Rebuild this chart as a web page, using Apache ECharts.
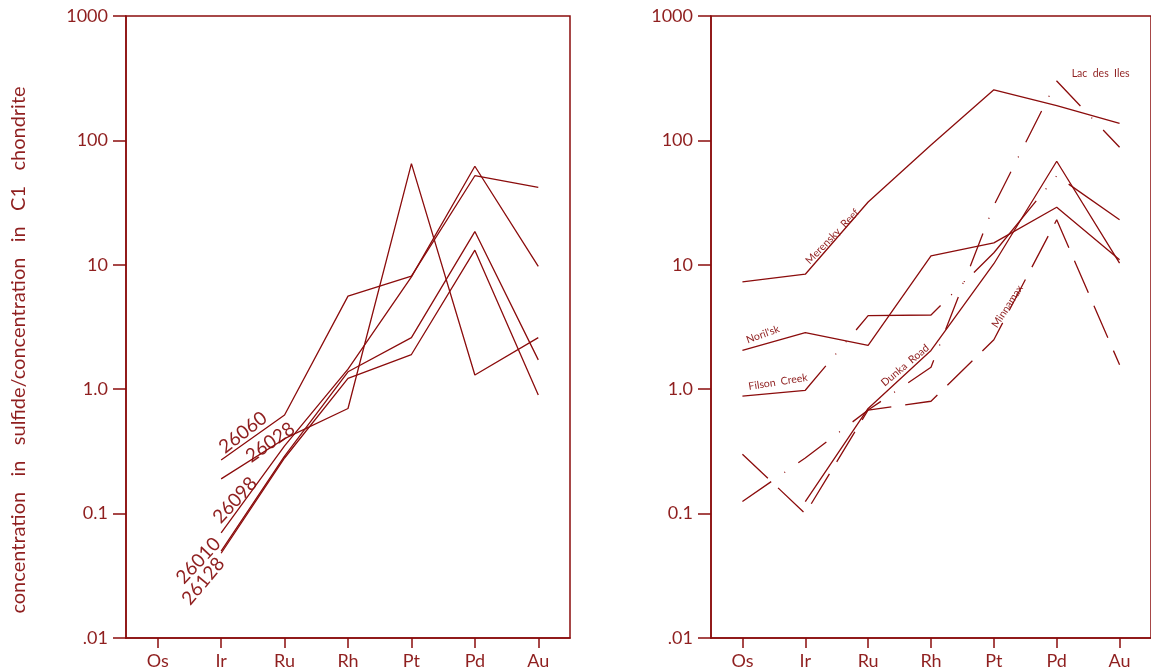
<!DOCTYPE html>
<html>
<head>
<meta charset="utf-8">
<script src="https://cdn.jsdelivr.net/npm/echarts@6/dist/echarts.min.js"></script>
<style>
  html, body { margin: 0; padding: 0; background: #ffffff; }
  #chart { width: 1151px; height: 671px; }
</style>
</head>
<body>
<div id="chart"></div>
<script>
// Platinum-group element order along the x axis
const elements = ['Os', 'Ir', 'Ru', 'Rh', 'Pt', 'Pd', 'Au'];
// Decade tick labels on the log axes (keyed by exponent)
const decadeLabels = { '-2': '.01', '-1': '0.1', '0': '1.0', '1': '10', '2': '100', '3': '1000' };

// Left panel: sulfide samples (chondrite-normalised)
const s26060 = [null, 0.27, 0.62, 5.6, 8.1, 52, 42];
const s26028 = [null, 0.19, 0.40, 0.70, 65, 1.3, 2.6];
const s26098 = [null, 0.070, 0.35, 1.45, 8.0, 62, 9.7];
const s26010 = [null, 0.050, 0.29, 1.38, 2.6, 18.5, 1.72];
const s26128 = [null, 0.048, 0.28, 1.22, 1.9, 13.1, 0.90];

// Right panel: reference deposits
const merensky = [7.3, 8.4, 32, 92, 255, 190, 137];
const norilsk = [2.05, 2.85, 2.25, 11.8, 15, 29, 11];
const filson = [0.88, 0.98, 3.9, 3.95, 12.5, 52, 23];
const dunka = [null, 0.125, 0.70, 2.05, 10.2, 68, 10.3];
const minnamax = [0.30, 0.10, 0.68, 0.80, 2.5, 23, 1.57];
const lacDesIles = [0.125, 0.28, 0.68, 1.5, 30, 300, 88];

const RED = '#8b0c0c';
const TXT = '#8f1f1f';
const FONT = 'Lato, "DejaVu Sans", sans-serif';

const chart = echarts.init(document.getElementById('chart'), null, { renderer: 'canvas' });

function yAxis(gridIndex) {
  return {
    type: 'log', logBase: 10, min: 0.01, max: 1000, splitNumber: 5, gridIndex,
    axisLine: { show: true, lineStyle: { color: RED, width: 1.5 } },
    axisTick: { show: true, inside: false, length: 13, lineStyle: { color: RED, width: 1.5 } },
    axisLabel: {
      margin: 18, fontSize: 18, color: TXT, fontFamily: FONT,
      formatter: v => decadeLabels[String(Math.round(Math.log10(v)))] || ''
    },
    splitLine: { show: false }, minorTick: { show: false }
  };
}
function xAxis(gridIndex) {
  return {
    type: 'category', data: elements, boundaryGap: true, gridIndex,
    axisLine: { show: true, lineStyle: { color: RED, width: 1.5 } },
    axisTick: { show: true, alignWithLabel: true, inside: false, length: 10, lineStyle: { color: RED, width: 1.5 } },
    axisLabel: { margin: 14, fontSize: 18, color: TXT, fontFamily: FONT },
    splitLine: { show: false }
  };
}
function line(name, data, gridIndex, type) {
  return {
    name, type: 'line', data, xAxisIndex: gridIndex, yAxisIndex: gridIndex,
    symbol: 'none', connectNulls: false, silent: true,
    lineStyle: { color: RED, width: 1.3, type: type || 'solid' }
  };
}

chart.setOption({
  animation: false,
  backgroundColor: '#ffffff',
  grid: [
    { left: 126, top: 16, width: 444, height: 622, show: true, borderColor: RED, borderWidth: 1.5 },
    { left: 711, top: 16, width: 441, height: 622, show: true, borderColor: RED, borderWidth: 1.5 }
  ],
  xAxis: [xAxis(0), xAxis(1)],
  yAxis: [yAxis(0), yAxis(1)],
  series: [
    line('26060', s26060, 0),
    line('26028', s26028, 0),
    line('26098', s26098, 0),
    line('26010', s26010, 0),
    line('26128', s26128, 0),
    line('Merensky Reef', merensky, 1),
    line("Noril'sk", norilsk, 1),
    line('Filson Creek', filson, 1, [95, 15, 1, 15, 1, 15]),
    line('Dunka Road', dunka, 1),
    line('Minnamax', minnamax, 1, [35, 14]),
    line('Lac des Iles', lacDesIles, 1, [35, 16, 1, 16])
  ]
});

// Annotation text placed relative to a data point of a series
function tag(gridIndex, cat, val, dx, dy, text, deg, size, align, vAlign) {
  const p = chart.convertToPixel({ gridIndex }, [cat, val]);
  return {
    type: 'text', x: p[0] + dx, y: p[1] + dy, rotation: deg * Math.PI / 180, silent: true,
    style: {
      text, fill: TXT, fontFamily: FONT, fontSize: size,
      align: align || 'left', verticalAlign: vAlign || 'bottom'
    }
  };
}

const graphics = [
  {
    type: 'text', x: 19, y: 350, rotation: Math.PI / 2, silent: true,
    style: {
      text: 'concentration   in   sulfide/concentration   in   C1   chondrite',
      fill: TXT, fontFamily: FONT, fontSize: 20, align: 'center', verticalAlign: 'middle'
    }
  },
  tag(0, 1, s26060[1], 6, -3, '26060', 38, 19),
  tag(0, 1, s26028[1], 32, -13, '26028', 35, 19),
  tag(0, 1, s26098[1], 2, -6, '26098', 47, 19),
  tag(0, 1, s26010[1], 3, -4, '26010', 47, 19, 'right'),
  tag(0, 1, s26128[1], 7, 13, '26128', 50, 19, 'right'),
  tag(1, 1, merensky[1], 6, -8, 'Merensky  Reef', 46, 10.5),
  tag(1, 0, norilsk[0], 6, -5, "Noril'sk", 20, 10.5),
  tag(1, 0, filson[0], 7, -4, 'Filson  Creek', 9, 10.5),
  tag(1, 2, dunka[2], 18, -20, 'Dunka  Road', 40, 10.5),
  tag(1, 4, minnamax[4], 5, -10, 'Minnamax', 57, 10.5),
  tag(1, 5, lacDesIles[5], 15, -7, 'Lac  des  Iles', 0, 10.5, 'left', 'middle')
];
chart.setOption({ graphic: graphics });
</script>
</body>
</html>
